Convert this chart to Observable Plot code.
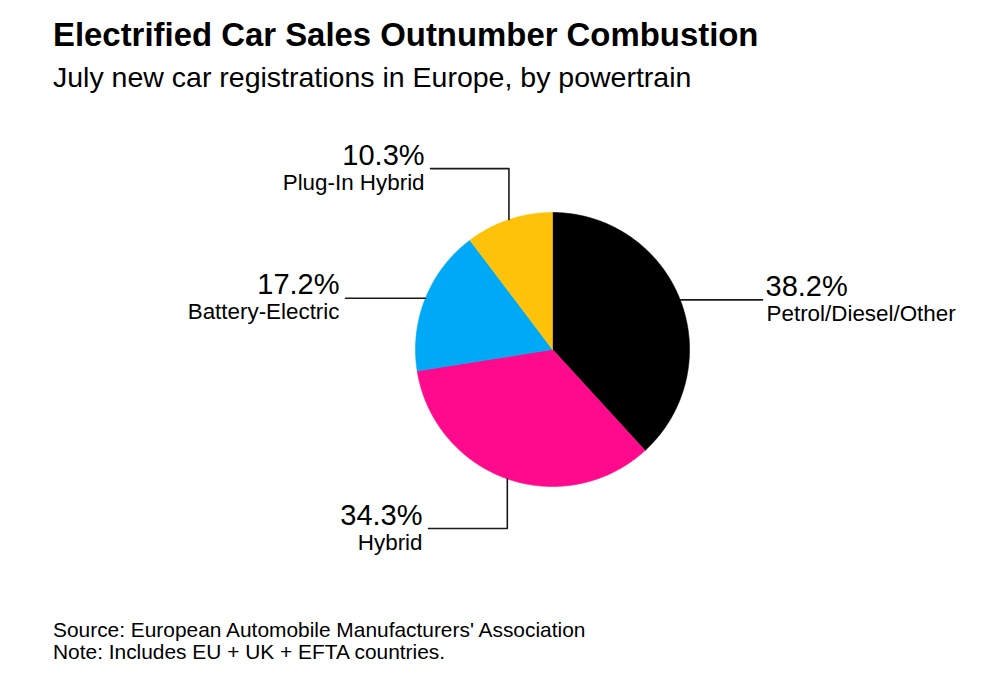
<!DOCTYPE html>
<html>
<head>
<meta charset="utf-8">
<script src="https://cdn.jsdelivr.net/npm/d3@7"></script>
<script src="https://cdn.jsdelivr.net/npm/@observablehq/plot@0.6"></script>
<style>
  html, body { margin: 0; padding: 0; background: #fff; }
  body { width: 1000px; height: 696px; position: relative; overflow: hidden;
         font-family: "Liberation Sans", Arial, sans-serif; color: #000; }
  #title { position: absolute; left: 53px; top: 18px; font-size: 32.9px; line-height: 33px;
           font-weight: bold; white-space: nowrap; }
  #subtitle { position: absolute; left: 53px; top: 63px; font-size: 28.5px; line-height: 28px;
              white-space: nowrap; }
  #chart { position: absolute; left: 0; top: 100px; }
  #footer { position: absolute; left: 53px; top: 619px; font-size: 20.9px; line-height: 22px; }
</style>
</head>
<body>
<div id="title">Electrified Car Sales Outnumber Combustion</div>
<div id="subtitle">July new car registrations in Europe, by powertrain</div>
<div id="chart"></div>
<div id="footer">Source: European Automobile Manufacturers' Association<br>Note: Includes EU + UK + EFTA countries.</div>
<script>
// ---- data ----
const categories = ["Petrol/Diesel/Other", "Hybrid", "Battery-Electric", "Plug-In Hybrid"];
const shares = [38.2, 34.3, 17.2, 10.3];
const valueLabels = ["38.2%", "34.3%", "17.2%", "10.3%"];
const colors = ["#000000", "#ff0a8c", "#00a9f6", "#ffc20a"];

// ---- leader layout (unit-circle coordinates, y up) ----
const leaderLayout = {
  "Petrol/Diesel/Other": {side: "right", elbowY: null, endX: 1.533},
  "Hybrid":              {side: "left",  elbowY: -1.307, endX: -0.905},
  "Battery-Electric":    {side: "left",  elbowY: null, endX: -1.511},
  "Plug-In Hybrid":      {side: "left",  elbowY: 1.32, endX: -0.89}
};

const total = d3.sum(shares);
const slicePts = [];
const leaderPts = [];
const labelRows = [];
let acc = 0;
categories.forEach((name, i) => {
  const a0 = acc / total * 2 * Math.PI;
  acc += shares[i];
  const a1 = acc / total * 2 * Math.PI;
  slicePts.push({name, x: 0, y: 0});
  const n = Math.max(2, Math.ceil((a1 - a0) / (Math.PI / 360)));
  for (let k = 0; k <= n; k++) {
    const a = a0 + (a1 - a0) * k / n;
    slicePts.push({name, x: Math.sin(a), y: Math.cos(a)});
  }
  slicePts.push({name, x: 0, y: 0});
  const am = (a0 + a1) / 2;
  const L = leaderLayout[name];
  const sx = Math.sin(am), sy = Math.cos(am);
  leaderPts.push({name, x: sx, y: sy});
  let ey = sy;
  if (L.elbowY !== null) { ey = L.elbowY; leaderPts.push({name, x: sx, y: ey}); }
  leaderPts.push({name, x: L.endX, y: ey});
  labelRows.push({name, value: valueLabels[i], x: L.endX, y: ey, side: L.side});
});

const right = labelRows.filter(d => d.side === "right");
const left = labelRows.filter(d => d.side === "left");

const chart = Plot.plot({
  width: 1000,
  height: 480,
  margin: 0,
  x: {domain: [-1, 1], range: [415, 689], axis: null},
  y: {domain: [-1, 1], range: [386, 112], axis: null},
  color: {domain: categories, range: colors},
  style: {fontFamily: "'Liberation Sans', Arial, sans-serif", background: "white"},
  marks: [
    Plot.line(slicePts, {x: "x", y: "y", z: "name", fill: "name", stroke: "name", strokeWidth: 0.6}),
    Plot.line(leaderPts, {x: "x", y: "y", z: "name", stroke: "#1a1a1a", strokeWidth: 1.6}),
    Plot.text(right, {x: "x", y: "y", text: "value", textAnchor: "start", lineAnchor: "bottom",
                      dx: 3, dy: -4, fontSize: 29, fill: "#000"}),
    Plot.text(right, {x: "x", y: "y", text: "name", textAnchor: "start", lineAnchor: "bottom",
                      dx: 4, dy: 21, fontSize: 22.4, fill: "#000"}),
    Plot.text(left, {x: "x", y: "y", text: "value", textAnchor: "end", lineAnchor: "bottom",
                     dx: -6, dy: -4, fontSize: 29, fill: "#000"}),
    Plot.text(left, {x: "x", y: "y", text: "name", textAnchor: "end", lineAnchor: "bottom",
                     dx: -6, dy: 21, fontSize: 22.4, fill: "#000"})
  ]
});
document.getElementById("chart").appendChild(chart);
</script>
</body>
</html>
